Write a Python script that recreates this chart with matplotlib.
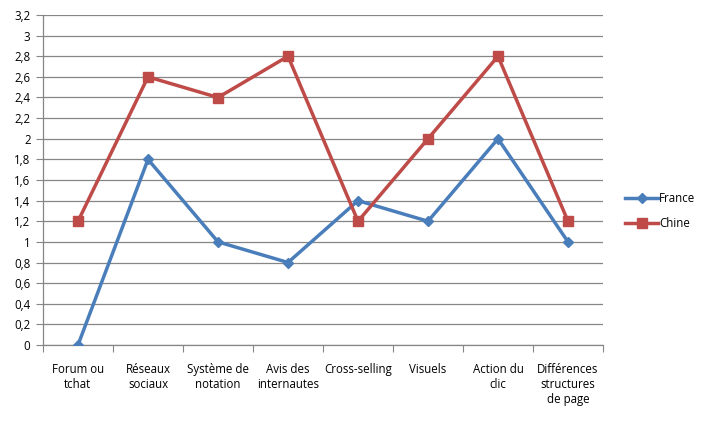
import matplotlib
matplotlib.use("Agg")
import matplotlib.pyplot as plt

categories = ["Forum ou\ntchat", "Réseaux\nsociaux", "Système de\nnotation", "Avis des\ninternautes",
              "Cross-selling", "Visuels", "Action du\nclic", "Différences\nstructures\nde page"]
france = [0, 1.8, 1.0, 0.8, 1.4, 1.2, 2.0, 1.0]
chine = [1.2, 2.6, 2.4, 2.8, 1.2, 2.0, 2.8, 1.2]
yticks = [i * 0.2 for i in range(17)]
ytick_labels = [("%.1f" % v).rstrip("0").rstrip(".").replace(".", ",") for v in yticks]

plt.rcParams['font.family'] = ['Open Sans', 'DejaVu Sans']
fig = plt.figure(figsize=(7.03, 4.22), dpi=100)
ax = fig.add_axes([43/703, 1-345/422, 560/703, 330/422])

x = list(range(len(categories)))
ax.plot(x, france, color="#4A7EBB", lw=2.5, marker="D", ms=5.5, label="France", zorder=3)
ax.plot(x, chine, color="#BE4B48", lw=2.5, marker="s", ms=6.5, label="Chine", zorder=3)

ax.set_xlim(-0.5, len(categories) - 0.5)
ax.set_ylim(0, 3.2)
ax.set_yticks(yticks)
ax.set_yticklabels(ytick_labels, fontsize=8.3)
ax.yaxis.grid(True, color="#868686", lw=0.9)
ax.set_axisbelow(True)
ax.set_xticks([i - 0.5 for i in range(len(categories) + 1)])
ax.set_xticklabels([])
ax.set_xticks(x, minor=True)
ax.set_xticklabels(categories, minor=True, fontsize=8.3, linespacing=1.2, va="top")
ax.tick_params(axis="x", which="minor", length=0, pad=13)
ax.tick_params(axis="x", which="major", length=5, color="#868686", direction="out")
ax.tick_params(axis="y", length=5, color="#868686", direction="out", pad=4)
for s in ["top", "right"]:
    ax.spines[s].set_visible(False)
for s in ["left", "bottom"]:
    ax.spines[s].set_color("#868686")
    ax.spines[s].set_linewidth(0.9)

leg = fig.legend(loc="center left", bbox_to_anchor=(615/703, 1-211/422), frameon=False,
                 fontsize=8.3, handlelength=2.8, handletextpad=0.1, labelspacing=1.0)

fig.savefig("out.png", dpi=100)
